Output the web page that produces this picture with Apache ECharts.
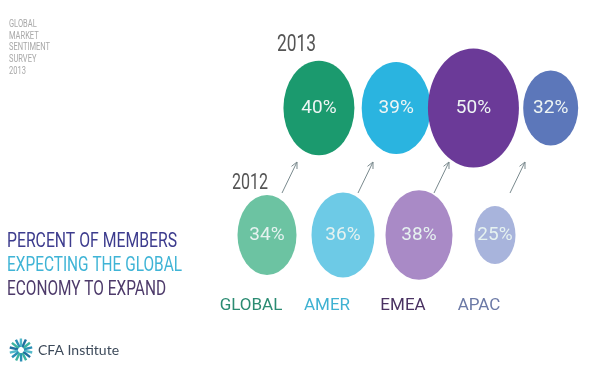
<!DOCTYPE html>
<html>
<head>
<meta charset="utf-8">
<script src="https://cdn.jsdelivr.net/npm/echarts@6/dist/echarts.min.js"></script>
<style>html,body{margin:0;padding:0;background:#fff}#c{width:600px;height:372px}</style>
</head>
<body>
<div id="c"></div>
<script>
const regions = ['GLOBAL', 'AMER', 'EMEA', 'APAC'];
const year2013 = '2013';
const year2012 = '2012';
const values2013 = [40, 39, 50, 32];
const values2012 = [34, 36, 38, 25];
const colors2013 = ['#1b9a6e', '#2ab4e0', '#6b3a98', '#5c77ba'];
const colors2012 = ['#6cc3a2', '#6dcae6', '#a98ac6', '#a8b4dc'];
const labelColors = ['#2b8b72', '#3fb2d2', '#4a3262', '#6b79a6'];
const surveyLines = ['GLOBAL', 'MARKET', 'SENTIMENT', 'SURVEY', '2013'];
const headlineLines = ['PERCENT OF MEMBERS', 'EXPECTING THE GLOBAL', 'ECONOMY TO EXPAND'];

const FONT = "Roboto, 'Noto Sans', sans-serif";

const mctx = document.createElement('canvas').getContext('2d');
function fit(text, font, target) {
  mctx.font = font;
  return target / mctx.measureText(text).width;
}

function bubbleSize(val) {
  const v = val[2];
  return [2 * v - 9, 2.44 * v - 3];
}

function bubbleSeries(gridIdx, values, colors, textColor) {
  return {
    type: 'scatter',
    xAxisIndex: gridIdx,
    yAxisIndex: gridIdx,
    clip: false,
    symbol: 'circle',
    symbolSize: bubbleSize,
    data: values.map((v, i) => ({ value: [i, 0, v], itemStyle: { color: colors[i], opacity: 1 } })),
    label: {
      show: true,
      position: 'inside',
      formatter: p => p.value[2] + '%',
      color: textColor,
      fontFamily: FONT,
      fontSize: 19
    },
    emphasis: { disabled: true },
    z: 3
  };
}

const chart = echarts.init(document.getElementById('c'), null, { renderer: 'canvas' });

const logoParts = [];
const logoColors = ['#2a8fb5', '#3bb3a0', '#1f6f9f', '#52b9c9'];
for (let k = 0; k < 14; k++) {
  const ang = k * Math.PI * 2 / 14;
  logoParts.push({
    type: 'rect',
    shape: { x: -1.1, y: 3, width: 2.4, height: 8.5 },
    rotation: ang,
    style: { fill: logoColors[k % logoColors.length] }
  });
}

const headFont = '21px ' + FONT;
const headColors = ['#3d3c8e', '#3fb4d6', '#4d3a6a'];
const headWidths = [170, 175, 159];
const headY = [242, 266, 290];
const headGraphics = headlineLines.map((t, i) => ({
  type: 'text', x: 7, y: headY[i], scaleX: fit(t, headFont, headWidths[i]),
  style: { text: t, fill: headColors[i], font: headFont, textAlign: 'left', textVerticalAlign: 'middle' }
}));

const yearFont = '24px ' + FONT;
const smallFont = '10.5px ' + FONT;

const axisHidden = { axisLine: { show: false }, axisTick: { show: false }, axisLabel: { show: false }, splitLine: { show: false } };

chart.setOption({
  backgroundColor: '#ffffff',
  animation: false,
  grid: [
    { left: 280.3, top: 70, width: 309, height: 76 },
    { left: 229, top: 205, width: 304, height: 60 }
  ],
  xAxis: [
    Object.assign({ type: 'category', gridIndex: 0, data: regions }, axisHidden),
    { type: 'category', gridIndex: 1, data: regions,
      axisLine: { show: false }, axisTick: { show: false }, splitLine: { show: false },
      axisLabel: {
        show: true, interval: 0, margin: 32, fontFamily: FONT, fontSize: 17,
        padding: [0, 32, 0, 0],
        color: (val, idx) => labelColors[idx]
      } }
  ],
  yAxis: [
    Object.assign({ type: 'category', gridIndex: 0, data: [year2013] }, axisHidden),
    Object.assign({ type: 'category', gridIndex: 1, data: [year2012] }, axisHidden)
  ],
  series: [
    bubbleSeries(0, values2013, colors2013, '#eef5f4'),
    bubbleSeries(1, values2012, colors2012, '#e6f2f0'),
    {
      type: 'custom',
      xAxisIndex: 1,
      yAxisIndex: 1,
      clip: false,
      silent: true,
      data: values2012.map((v, i) => [i, 0]),
      renderItem: function (params, api) {
        const p = api.coord([api.value(0), api.value(1)]);
        const x1 = p[0] + 15, y1 = p[1] - 42, x2 = p[0] + 30, y2 = p[1] - 73;
        const dx = x2 - x1, dy = y2 - y1, L = Math.sqrt(dx * dx + dy * dy);
        const ux = dx / L, uy = dy / L, h = 7, a = 0.45;
        const c = Math.cos(a), s = Math.sin(a);
        const b1 = [x2 - h * (ux * c - uy * s), y2 - h * (ux * s + uy * c)];
        const b2 = [x2 - h * (ux * c + uy * s), y2 - h * (-ux * s + uy * c)];
        const st = { stroke: '#7a8a8e', lineWidth: 1, fill: null };
        return {
          type: 'group',
          children: [
            { type: 'line', shape: { x1: x1, y1: y1, x2: x2, y2: y2 }, style: st },
            { type: 'polyline', shape: { points: [b1, [x2, y2], b2] }, style: st }
          ]
        };
      },
      z: 2
    }
  ],
  graphic: [
    { type: 'text', x: 9, y: 18.5, scaleX: fit('SENTIMENT', smallFont, 41),
      style: { text: surveyLines.join('\n'), fill: '#a8a8a8', font: smallFont, lineHeight: 11.7,
        textAlign: 'left', textVerticalAlign: 'top' } },
    { type: 'text', x: 277, y: 45, scaleX: fit(year2013, yearFont, 39),
      style: { text: year2013, fill: '#555', font: yearFont, textAlign: 'left', textVerticalAlign: 'middle' } },
    { type: 'text', x: 232, y: 183, scaleX: fit(year2012, '22px ' + FONT, 36),
      style: { text: year2012, fill: '#555', font: '22px ' + FONT, textAlign: 'left', textVerticalAlign: 'middle' } }
  ].concat(headGraphics).concat([
    { type: 'group', x: 21, y: 350, children: logoParts },
    { type: 'text', x: 38, y: 350,
      style: { text: 'CFA Institute', fill: '#3d4a5a', font: "14px Lato, 'Open Sans', sans-serif",
        textAlign: 'left', textVerticalAlign: 'middle' } }
  ])
});
</script>
</body>
</html>
